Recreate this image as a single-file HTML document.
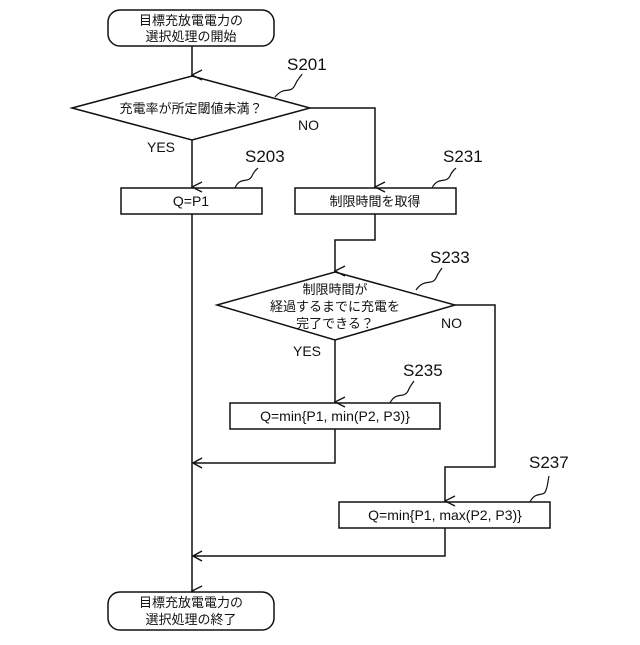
<!DOCTYPE html>
<html><head><meta charset="utf-8"><style>
body{margin:0;background:#fff}
text{font-family:"Liberation Sans","Noto Sans CJK JP",sans-serif;fill:#111}
.j{font-size:13px}
.l{font-size:17px}
.b{font-size:14px}
</style></head><body>
<svg width="640" height="640" viewBox="0 0 640 640" xmlns="http://www.w3.org/2000/svg">
<defs><marker id="a" markerWidth="12" markerHeight="12" refX="6" refY="11" orient="auto" markerUnits="userSpaceOnUse"><path d="M1,1 L6,11 L11,1" fill="none" stroke="#111" stroke-width="1.3"/></marker>
<marker id="al" markerWidth="12" markerHeight="12" refX="11" refY="6" orient="0" markerUnits="userSpaceOnUse"><path d="M11,1 L1,6 L11,11" fill="none" stroke="#111" stroke-width="1.3" transform="translate(-10,0) rotate(0)"/></marker></defs>
<g fill="none" stroke="#111" stroke-width="1.5">
<rect x="108" y="10" width="166" height="36" rx="12" fill="#fff"/>
<line x1="192" y1="46" x2="192" y2="75" marker-end="url(#a)"/>
<polygon points="72,108 192,76 310,108 192,140"/>
<polyline points="310,108 375,108 375,187" marker-end="url(#a)"/>
<line x1="192" y1="140" x2="192" y2="187" marker-end="url(#a)"/>
<rect x="121" y="188" width="141" height="26"/>
<rect x="295" y="188" width="161" height="26"/>
<polyline points="375,214 375,240 335,240 335,271" marker-end="url(#a)"/>
<polygon points="217,305 335,272 455,305 335,340"/>
<line x1="335" y1="340" x2="335" y2="402" marker-end="url(#a)"/>
<polyline points="455,305 495,305 495,467 445,467 445,501" marker-end="url(#a)"/>
<rect x="230" y="403" width="210" height="26"/>
<rect x="339" y="502" width="211" height="26"/>
<polyline points="335,429 335,463 193,463"/>
<polyline points="202,458 193,463 202,468"/>
<polyline points="445,528 445,556 193,556"/>
<polyline points="202,551 193,556 202,561"/>
<line x1="192" y1="214" x2="192" y2="591" marker-end="url(#a)"/>
<rect x="108" y="592" width="166" height="38" rx="12" fill="#fff"/>
<path d="M275,97 C285,85 290,95 295,85 C298,78 300,78 302,74" stroke-width="1.2"/>
<path d="M235,188 C240,176 248,184 252,176 C254,171 256,170 258,168" stroke-width="1.2"/>
<path d="M432,188 C438,176 446,184 450,176 C452,171 454,170 456,168" stroke-width="1.2"/>
<path d="M416,290 C424,278 432,286 436,278 C438,273 440,271 442,268" stroke-width="1.2"/>
<path d="M390,403 C396,391 404,399 408,391 C410,386 412,384 414,381" stroke-width="1.2"/>
<path d="M530,502 C536,490 544,498 546,490 C548,485 548,480 549,476" stroke-width="1.2"/>
</g>
<text class="j" x="191" y="25" text-anchor="middle">目標充放電電力の</text>
<text class="j" x="191" y="41" text-anchor="middle">選択処理の開始</text>
<text class="j" x="191" y="113" text-anchor="middle">充電率が所定閾値未満？</text>
<text class="j" x="375" y="206" text-anchor="middle">制限時間を取得</text>
<text class="j" x="335" y="294" text-anchor="middle">制限時間が</text>
<text class="j" x="335" y="311" text-anchor="middle">経過するまでに充電を</text>
<text class="j" x="335" y="328" text-anchor="middle">完了できる？</text>
<text class="j" x="191" y="607" text-anchor="middle">目標充放電電力の</text>
<text class="j" x="191" y="624" text-anchor="middle">選択処理の終了</text>
<text class="b" x="191" y="206" text-anchor="middle">Q=P1</text>
<text class="b" x="335" y="421" text-anchor="middle">Q=min{P1, min(P2, P3)}</text>
<text class="b" x="445" y="520" text-anchor="middle">Q=min{P1, max(P2, P3)}</text>
<text class="b" x="298" y="130">NO</text>
<text class="b" x="147" y="152">YES</text>
<text class="b" x="441" y="328">NO</text>
<text class="b" x="293" y="356">YES</text>
<text class="l" x="287" y="70">S201</text>
<text class="l" x="245" y="162">S203</text>
<text class="l" x="443" y="162">S231</text>
<text class="l" x="430" y="263">S233</text>
<text class="l" x="403" y="376">S235</text>
<text class="l" x="529" y="468">S237</text>
</svg>
</body></html>
